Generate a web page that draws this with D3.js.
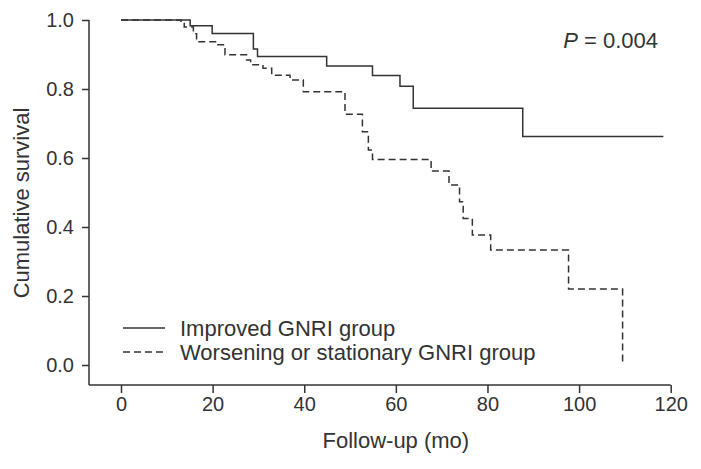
<!DOCTYPE html>
<html>
<head>
<meta charset="utf-8">
<script src="https://cdn.jsdelivr.net/npm/d3@7"></script>
<style>
  body { margin: 0; background: #fff; }
  svg text { font-family: "Liberation Sans", Arial, sans-serif; fill: #333; }
</style>
</head>
<body>
<svg id="chart" width="701" height="469"></svg>
<script>
// Kaplan-Meier step data (months, cumulative survival)
var improvedTimes = [0, 15.1, 19.9, 28.9, 29.8, 44.9, 54.9, 60.9, 63.8, 87.7, 118.4]
var improvedSurv  = [1.0, 0.983, 0.961, 0.916, 0.894, 0.867, 0.839, 0.808, 0.744, 0.662, 0.662]

var worseTimes = [0, 13.1, 13.8, 15.8, 16.5, 20.9, 22.7, 27.4, 28.3, 31.0, 32.9, 36.9, 39.8,
                  48.9, 52.7, 54.0, 54.9, 67.7, 71.6, 73.9, 74.7, 76.7, 80.7, 97.7, 109.5]
var worseSurv  = [1.0, 0.99, 0.98, 0.96, 0.937, 0.928, 0.899, 0.884, 0.870, 0.86, 0.84, 0.826, 0.792,
                  0.727, 0.676, 0.623, 0.596, 0.562, 0.522, 0.473, 0.425, 0.377, 0.333, 0.22, 0.0]

var xTicks = [0, 20, 40, 60, 80, 100, 120]
var yTicks = [0, 0.2, 0.4, 0.6, 0.8, 1.0]
var seriesNames = ["Improved GNRI group", "Worsening or stationary GNRI group"]

var ink = "#333"
var svg = d3.select("#chart")

var x = d3.scaleLinear().domain([0, 120]).range([121, 670.7])
var y = d3.scaleLinear().domain([0, 1]).range([365, 20])
var axisLeftX = 89, axisBottomY = 385

// axes
var yAxis = svg.append("g")
    .attr("transform", "translate(" + axisLeftX + ",0)")
    .call(d3.axisLeft(y).tickValues(yTicks).tickFormat(d3.format(".1f")).tickSize(7).tickPadding(8).tickSizeOuter(0))
yAxis.select(".domain").remove()
yAxis.append("line")
    .attr("x1", 0).attr("x2", 0)
    .attr("y1", y(1)).attr("y2", axisBottomY)
    .attr("stroke", ink).attr("stroke-width", 1.5)

var xAxis = svg.append("g")
    .attr("transform", "translate(0," + axisBottomY + ")")
    .call(d3.axisBottom(x).tickValues(xTicks).tickSize(8).tickPadding(4).tickSizeOuter(0))
xAxis.select(".domain").remove()
xAxis.append("line")
    .attr("x1", axisLeftX).attr("x2", x(120))
    .attr("y1", 0).attr("y2", 0)
    .attr("stroke", ink).attr("stroke-width", 1.5)

svg.selectAll(".tick line").attr("stroke", ink).attr("stroke-width", 1.5)
svg.selectAll(".tick text")
    .style("font-size", "20px")
    .style("fill", ink)
    .attr("font-family", null)

// axis titles
svg.append("text")
    .attr("transform", "translate(29,203) rotate(-90)")
    .attr("text-anchor", "middle")
    .style("font-size", "22px")
    .text("Cumulative survival")

svg.append("text")
    .attr("x", x(60)).attr("y", 448)
    .attr("text-anchor", "middle")
    .style("font-size", "22px")
    .text("Follow-up (mo)")

// curves
var line = d3.line()
    .x(d => x(d[0]))
    .y(d => y(d[1]))
    .curve(d3.curveStepAfter)

svg.append("path")
    .datum(d3.zip(improvedTimes, improvedSurv))
    .attr("d", line)
    .attr("fill", "none")
    .attr("stroke", ink)
    .attr("stroke-width", 1.5)

svg.append("path")
    .datum(d3.zip(worseTimes, worseSurv))
    .attr("d", line)
    .attr("fill", "none")
    .attr("stroke", ink)
    .attr("stroke-width", 1.5)
    .attr("stroke-dasharray", "7,4")

// legend
var legend = svg.append("g").attr("transform", "translate(123,328)")
seriesNames.forEach(function(name, i) {
    legend.append("line")
        .attr("x1", 0).attr("x2", 42)
        .attr("y1", i * 24).attr("y2", i * 24)
        .attr("stroke", ink).attr("stroke-width", 1.5)
        .attr("stroke-dasharray", i == 1 ? "7,4" : null)
    legend.append("text")
        .attr("x", 57).attr("y", i * 24 + 8)
        .style("font-size", "22px")
        .text(name)
})

// p value
var pText = svg.append("text")
    .attr("x", 658).attr("y", 48)
    .attr("text-anchor", "end")
    .style("font-size", "22px")
pText.append("tspan").style("font-style", "italic").text("P")
pText.append("tspan").text(" = 0.004")
</script>
</body>
</html>
